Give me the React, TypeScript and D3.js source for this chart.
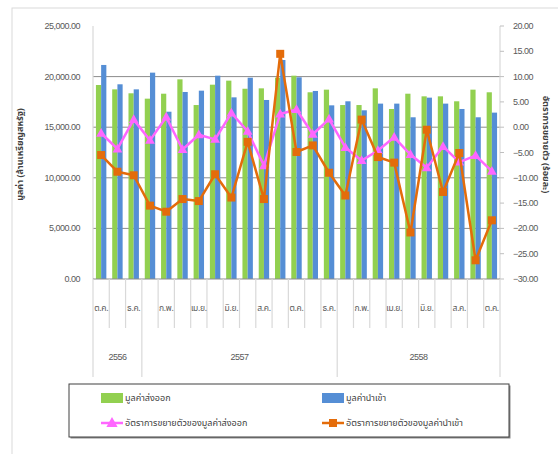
import React from "react";
import * as d3 from "d3";

const months = [
  "ต.ค.", "พ.ย.", "ธ.ค.",
  "ม.ค.", "ก.พ.", "มี.ค.", "เม.ย.", "พ.ค.", "มิ.ย.", "ก.ค.", "ส.ค.", "ก.ย.", "ต.ค.", "พ.ย.", "ธ.ค.",
  "ม.ค.", "ก.พ.", "มี.ค.", "เม.ย.", "พ.ค.", "มิ.ย.", "ก.ค.", "ส.ค.", "ก.ย.", "ต.ค.",
];
const years = [
  { label: "2556", start: 0, count: 3 },
  { label: "2557", start: 3, count: 12 },
  { label: "2558", start: 15, count: 10 },
];
const exportValue = [
  19170, 18740, 18350, 17820, 18310, 19730, 17190, 19200, 19600, 18800, 18840, 19900, 20090,
  18450, 18710, 17190, 17190, 18840, 16800, 18310, 18050, 18050, 17560, 18710, 18450,
];
const importValue = [
  21150, 19240, 18740, 20390, 16530, 18480, 18610, 20090, 17950, 19890, 17690, 21640, 19930,
  18580, 17160, 17560, 16670, 17330, 17330, 15980, 17920, 17330, 16800, 15980, 16440,
];
const exportGrowth = [
  -1.2, -4.3, 1.5, -2.6, 2.0, -4.4, -1.5, -2.4, 2.8, -0.8, -7.6, 2.6, 3.5,
  -1.4, 1.6, -4.0, -6.6, -4.6, -2.0, -5.4, -8.0, -3.8, -6.9, -5.6, -8.7,
];
const importGrowth = [
  -5.5, -8.8, -9.5, -15.5, -16.7, -14.2, -14.6, -9.3, -13.9, -2.9, -14.2, 14.5, -4.9,
  -3.6, -9.0, -13.5, 1.5, -5.9, -7.0, -20.8, -0.5, -12.8, -5.1, -26.3, -18.4,
];
const leftTicks = [0, 5000, 10000, 15000, 20000, 25000];
const rightTicks = [20, 15, 10, 5, 0, -5, -10, -15, -20, -25, -30];
const seriesNames = [
  "มูลค่าส่งออก",
  "มูลค่านำเข้า",
  "อัตราการขยายตัวของมูลค่าส่งออก",
  "อัตราการขยายตัวของมูลค่านำเข้า",
];

const GREEN = "#92d050";
const BLUE = "#558ed5";
const PINK = "#ff66ff";
const ORANGE = "#e46c0a";
const FONT = "'Noto Sans Thai', 'Noto Sans', 'DejaVu Sans', sans-serif";

export default function App() {
  const L = 93, R = 500, T = 26, B = 279;
  const idx = months.map((_, i) => i);
  const x = d3.scaleBand<number>().domain(idx).range([L, R]).paddingInner(0).paddingOuter(0);
  const bw = x.bandwidth();
  const barW = bw * 0.32;
  const yL = d3.scaleLinear().domain([0, 25000]).range([B, T]);
  const yR = d3.scaleLinear().domain([-30, 20]).range([B, T]);
  const cx = (i: number) => (x(i) as number) + bw / 2;
  const fmt = d3.format(",.2f");
  const fmtR = d3.format(".2f");

  const lineE = d3.line<number>().x((_, i) => cx(i)).y((d) => yR(d));

  const tri = (px: number, py: number, s: number) =>
    `M${px},${py - s * 0.75}L${px + s * 0.7},${py + s * 0.5}L${px - s * 0.7},${py + s * 0.5}Z`;

  const legendX = 69, legendY = 384, legendW = 440, legendH = 53;

  return (
    <svg width={558} height={454} style={{ position: "absolute", left: 0, top: 0, fontFamily: FONT }}>
      <rect x={0} y={0} width={558} height={454} fill="#ffffff" />
      <rect x={12} y={8} width={560} height={460} fill="none" stroke="#d9d9d9" strokeWidth={1} />

      {/* gridlines */}
      {leftTicks.filter((t) => t > 0 && t < 25000).map((t) => (
        <line key={t} x1={L} x2={R} y1={yL(t)} y2={yL(t)} stroke="#8c8c8c" strokeWidth={1} />
      ))}
      <line x1={L} x2={L} y1={T} y2={B} stroke="#d9d9d9" strokeWidth={1.2} />
      <line x1={R} x2={R} y1={T} y2={B} stroke="#d9d9d9" strokeWidth={1.2} />

      {/* bars */}
      {exportValue.map((v, i) => (
        <rect key={"g" + i} x={cx(i) - barW} y={yL(v)} width={barW} height={B - yL(v)} fill={GREEN} />
      ))}
      {importValue.map((v, i) => (
        <rect key={"b" + i} x={cx(i)} y={yL(v)} width={barW} height={B - yL(v)} fill={BLUE} />
      ))}
      <line x1={L} x2={R} y1={B} y2={B} stroke="#8c8c8c" strokeWidth={1} />

      {/* lines */}
      <path d={lineE(exportGrowth) || ""} fill="none" stroke={PINK} strokeWidth={2.5} strokeLinejoin="round" />
      {exportGrowth.map((v, i) => (
        <path key={"pt" + i} d={tri(cx(i), yR(v), 7)} fill={PINK} />
      ))}
      <path d={lineE(importGrowth) || ""} fill="none" stroke={ORANGE} strokeWidth={2.5} strokeLinejoin="round" />
      {importGrowth.map((v, i) => (
        <rect key={"os" + i} x={cx(i) - 4} y={yR(v) - 4} width={8} height={8} fill={ORANGE} />
      ))}

      {/* left axis labels */}
      {leftTicks.map((t) => (
        <text key={"lt" + t} x={80} y={yL(t) + 3} textAnchor="end" fontSize={9} fill="#595959"
          fontFamily="'Liberation Sans', Arial, sans-serif" letterSpacing={-0.5}>
          {fmt(t)}
        </text>
      ))}
      {/* right axis ticks + labels */}
      {rightTicks.map((t) => (
        <g key={"rt" + t}>
          <line x1={R} x2={R + 4} y1={yR(t)} y2={yR(t)} stroke="#bfbfbf" />
          <text x={513} y={yR(t) + 3} textAnchor="start" fontSize={9} fill="#595959"
            fontFamily="'Liberation Sans', Arial, sans-serif" letterSpacing={-0.5}>
            {fmtR(t)}
          </text>
        </g>
      ))}

      {/* axis titles */}
      <text transform={`translate(23,${(T + B) / 2 + 2}) rotate(-90)`} textAnchor="middle" fontSize={9} fill="#404040" fontWeight="bold">
        มูลค่า (ล้านเหรียญสหรัฐ)
      </text>
      <text transform={`translate(543,${(T + B) / 2 - 8}) rotate(90)`} textAnchor="middle" fontSize={9} fill="#404040" fontWeight="bold">
        อัตราการขยายตัว (ร้อยละ)
      </text>

      {/* category separators */}
      {d3.range(months.length + 1).map((i) => {
        const xx = i < months.length ? (x(i) as number) : R;
        const isGroup = years.some((y) => y.start === i) || i === months.length;
        return (
          <line key={"sep" + i} x1={xx} x2={xx} y1={B} y2={isGroup ? 377 : 328} stroke="#d9d9d9" strokeWidth={1.2} />
        );
      })}
      {months.map((m, i) =>
        i % 2 === 0 ? (
          <text key={"m" + i} x={cx(i)} y={311} textAnchor="middle" fontSize={8.5} fill="#595959" letterSpacing={-0.3}>
            {m}
          </text>
        ) : null
      )}
      {years.map((y) => (
        <text key={y.label} x={((x(y.start) as number) + (y.start + y.count < months.length ? (x(y.start + y.count) as number) : R)) / 2}
          y={360} textAnchor="middle" fontSize={9} fill="#595959" fontFamily="'Liberation Sans', Arial, sans-serif" letterSpacing={-0.5}>
          {y.label}
        </text>
      ))}

      {/* legend */}
      <rect x={legendX + 1.5} y={legendY + 1.5} width={legendW} height={legendH} fill="#8c8c8c" />
      <rect x={legendX} y={legendY} width={legendW} height={legendH} fill="#ffffff" stroke="#404040" strokeWidth={1} />
      <rect x={101} y={393} width={22} height={10} fill={GREEN} />
      <text x={125} y={401} fontSize={9} fill="#404040">{seriesNames[0]}</text>
      <rect x={322} y={393} width={22} height={10} fill={BLUE} />
      <text x={346} y={401} fontSize={9} fill="#404040">{seriesNames[1]}</text>
      <line x1={101} x2={123} y1={423} y2={423} stroke={PINK} strokeWidth={2.5} />
      <path d={tri(112, 423, 8)} fill={PINK} />
      <text x={125} y={426} fontSize={9} fill="#404040">{seriesNames[2]}</text>
      <line x1={322} x2={344} y1={423} y2={423} stroke={ORANGE} strokeWidth={2.5} />
      <rect x={329} y={419} width={8} height={8} fill={ORANGE} />
      <text x={346} y={426} fontSize={9} fill="#404040">{seriesNames[3]}</text>
    </svg>
  );
}
